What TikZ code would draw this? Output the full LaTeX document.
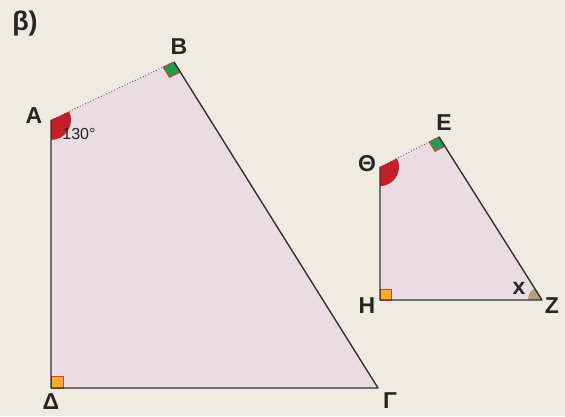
\documentclass[tikz,border=0pt]{standalone}
\usepackage{fontspec}
\setmainfont{Liberation Sans}
\usetikzlibrary{calc}
\definecolor{paper}{HTML}{EFEBE1}
\definecolor{facepink}{HTML}{EBDCE3}
\definecolor{edgeink}{HTML}{333333}
\definecolor{dotink}{HTML}{5A5A5A}
\definecolor{angred}{HTML}{C41E2A}
\definecolor{markgreen}{HTML}{1E9E4A}
\definecolor{markorange}{HTML}{F2B02A}
\definecolor{markrim}{HTML}{D8402E}
\definecolor{angtan}{HTML}{B49E7E}
\definecolor{labelink}{HTML}{262626}

\begin{document}
\begin{tikzpicture}[
  x=1pt, y=1pt,
  face/.style={fill=facepink},
  edge/.style={draw=edgeink, line width=1.4pt, line join=round},
  hidden/.style={draw=dotink, line width=0.9pt, dotted},
  vlabel/.style={font=\fontsize{23}{27}\selectfont\bfseries, text=labelink, inner sep=0pt},
  anglabel/.style={font=\fontsize{16}{19}\selectfont, text=labelink, inner sep=0pt},
  squaremark/.style={fill=markorange, draw=markrim, line width=1pt},
  rhombmark/.style={fill=markgreen, draw=markrim, line width=1pt},
]
% --- Page ---
\path[use as bounding box, fill=paper] (0,0) rectangle (565,-416);
\node[font=\fontsize{27}{32}\selectfont\bfseries, text=labelink, inner sep=0pt] (part) at (25,-24) {β)};

% --- Large quadrilateral ---
\coordinate (A) at (51,-120);
\coordinate (B) at (174,-62);
\coordinate (G) at (378,-388);
\coordinate (D) at (51,-388);
\fill[face] (A) -- (B) -- (G) -- (D) -- cycle;

% angle marks
\fill[angred] (A) -- ++(-90:20) arc[start angle=-90, end angle=25, radius=20] -- cycle;
\filldraw[squaremark] (D) rectangle ++(12,12);
\coordinate (bA) at ($(B)!12pt!(A)$);
\coordinate (bG) at ($(B)!12pt!(G)$);
\filldraw[rhombmark] (B) -- (bA) -- ($(bA)+(bG)-(B)$) -- (bG) -- cycle;

% sides
\draw[hidden] (A) -- (B);
\draw[edge] (B) -- (G) -- (D) -- (A);

% labels
\node[vlabel] (lA) at (34,-116) {A};
\node[vlabel] (lB) at (179,-47) {B};
\node[vlabel] (lG) at (390,-401) {Γ};
\node[vlabel] (lD) at (51,-402) {Δ};
\node[anglabel] (a130) at (79,-134) {130°};

% --- Small quadrilateral ---
\coordinate (T) at (380,-167);
\coordinate (E) at (439,-137);
\coordinate (Z) at (542,-300);
\coordinate (H) at (380,-300);
\fill[face] (T) -- (E) -- (Z) -- (H) -- cycle;

% angle marks
\fill[angred] (T) -- ++(-90:19) arc[start angle=-90, end angle=27, radius=19] -- cycle;
\fill[angtan] (Z) -- ++(122:14) arc[start angle=122, end angle=180, radius=14] -- cycle;
\filldraw[squaremark] (H) rectangle ++(11,11);
\coordinate (eT) at ($(E)!11pt!(T)$);
\coordinate (eZ) at ($(E)!11pt!(Z)$);
\filldraw[rhombmark] (E) -- (eT) -- ($(eT)+(eZ)-(E)$) -- (eZ) -- cycle;

% sides
\draw[hidden] (T) -- (E);
\draw[edge] (E) -- (Z) -- (H) -- (T);

% labels
\node[vlabel] (lT) at (367,-164) {Θ};
\node[vlabel] (lE) at (444,-123) {E};
\node[vlabel] (lZ) at (552,-306) {Z};
\node[vlabel] (lH) at (367,-306) {H};
\node[vlabel] (lx) at (519,-288) {x};
\end{tikzpicture}
\end{document}
